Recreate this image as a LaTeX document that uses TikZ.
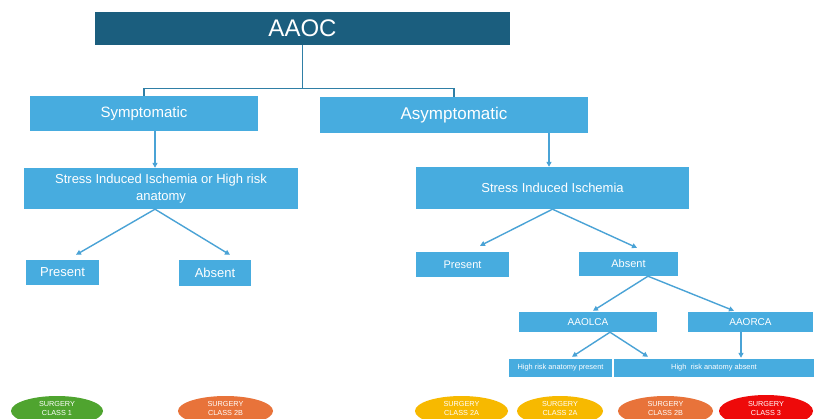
\documentclass[tikz,border=0pt]{standalone}
\usepackage{fontspec}
\setmainfont{Liberation Sans}
\usetikzlibrary{positioning,shapes.geometric,arrows.meta}

\definecolor{aaocblue}{HTML}{1B5E7E}
\definecolor{boxblue}{HTML}{47ACDF}
\definecolor{stemblue}{HTML}{2F7FA6}
\definecolor{arrowblue}{HTML}{4AA3D6}
\definecolor{classgreen}{HTML}{4FA42F}
\definecolor{classorange}{HTML}{E8733A}
\definecolor{classgold}{HTML}{F7B900}
\definecolor{classred}{HTML}{EE0A0A}

\tikzset{
  box/.style={fill=boxblue, text=white, inner sep=0pt, align=center},
  pill/.style={ellipse, fill=#1, text=white, inner sep=0pt, minimum height=30pt,
    align=center, text depth=5pt, font=\fontsize{7.3}{8.6}\selectfont},
  tree/.style={draw=stemblue, line width=1.3pt},
  arr/.style={draw=arrowblue, line width=1.4pt, -{Triangle[length=5pt,width=5pt]}},
}

\begin{document}
\begin{tikzpicture}[x=1pt,y=-1pt]
	\clip (0,0) rectangle (814,418);
	\fill[white] (0,0) rectangle (814,418);

	% top of the tree
	\node[box, fill=aaocblue, minimum width=415pt, minimum height=33pt, font=\fontsize{24}{28}\selectfont] (aaoc) at (302.5,28.5) {AAOC};
	\node[box, minimum width=228pt, minimum height=35pt, font=\fontsize{15}{18}\selectfont] (sym) at (144,113.5) {Symptomatic};
	\node[box, minimum width=268pt, minimum height=36pt, font=\fontsize{17}{20}\selectfont] (asym) at (454,115) {Asymptomatic};

	% symptomatic branch
	\node[box, minimum width=274pt, minimum height=41pt, font=\fontsize{13}{17}\selectfont] (sil) at (161,188.5) {Stress Induced Ischemia or High risk\\anatomy};
	\node[box, minimum width=73pt, minimum height=25pt, font=\fontsize{13}{15}\selectfont] (lpres) at (62.5,272.5) {Present};
	\node[box, minimum width=72pt, minimum height=26pt, font=\fontsize{13}{15}\selectfont] (labs) at (215,273) {Absent};

	% asymptomatic branch
	\node[box, minimum width=273pt, minimum height=42pt, font=\fontsize{13}{15}\selectfont] (sir) at (552.5,188) {Stress Induced Ischemia};
	\node[box, minimum width=93pt, minimum height=25pt, font=\fontsize{11}{13}\selectfont] (rpres) at (462.5,264.5) {Present};
	\node[box, minimum width=99pt, minimum height=24pt, font=\fontsize{11}{13}\selectfont] (rabs) at (628.5,264) {Absent};
	\node[box, minimum width=138pt, minimum height=20pt, font=\fontsize{10}{12}\selectfont] (lca) at (588,322) {AAOLCA};
	\node[box, minimum width=125pt, minimum height=20pt, font=\fontsize{10}{12}\selectfont] (rca) at (750.5,322) {AAORCA};
	\node[box, minimum width=103pt, minimum height=18pt, font=\fontsize{7.4}{9}\selectfont] (hrp) at (560.5,368) {High risk anatomy present};
	\node[box, minimum width=200pt, minimum height=18pt, font=\fontsize{7.4}{9}\selectfont] (hra) at (714,368) {High\ \ risk anatomy absent};

	% classes
	\node[pill=classgreen, minimum width=92pt] (c1) at (57,411) {SURGERY\\CLASS 1};
	\node[pill=classorange, minimum width=95pt] (c2b) at (225.5,411) {SURGERY\\CLASS 2B};
	\node[pill=classgold, minimum width=93pt] (c2a) at (461.5,411) {SURGERY\\CLASS 2A};
	\node[pill=classgold, minimum width=86pt] (c2aa) at (560,411) {SURGERY\\CLASS 2A};
	\node[pill=classorange, minimum width=95pt] (c2bb) at (665.5,411) {SURGERY\\CLASS 2B};
	\node[pill=classred, minimum width=94pt, minimum height=32pt] (c3) at (766,411) {SURGERY\\CLASS 3};

	% connectors
	\draw[tree] (aaoc.south) -- ++(0,43) coordinate (split);
	\draw[tree] (split) -| (sym.north);
	\draw[tree] (split) -| (asym.north);

	\draw[arr] ([xshift=-6pt]sil.north |- sym.south) -- ([xshift=-6pt]sil.north);
	\draw[arr] ([xshift=-6pt]sil.south) -- ([xshift=13.5pt,yshift=5pt]lpres.north);
	\draw[arr] ([xshift=-6pt]sil.south) -- ([xshift=15pt,yshift=5pt]labs.north);

	\draw[arr] ([xshift=-3.5pt]sir.north |- asym.south) -- ([xshift=-3.5pt]sir.north);
	\draw[arr] (sir.south) -- ([xshift=17.5pt,yshift=6pt]rpres.north);
	\draw[arr] (sir.south) -- ([xshift=8.5pt,yshift=4pt]rabs.north);

	\draw[arr] ([xshift=19.5pt]rabs.south) -- ([xshift=5pt,yshift=1pt]lca.north);
	\draw[arr] ([xshift=19.5pt]rabs.south) -- ([xshift=-16.5pt,yshift=1pt]rca.north);

	\draw[arr] ([xshift=22pt]lca.south) -- ([xshift=11.5pt,yshift=2pt]hrp.north);
	\draw[arr] ([xshift=22pt]lca.south) -- ([xshift=-66pt,yshift=2pt]hra.north);
	\draw[arr] ([xshift=-9.5pt]rca.south) -- ([xshift=-9.5pt,yshift=1pt]rca.south |- hra.north);
\end{tikzpicture}
\end{document}
